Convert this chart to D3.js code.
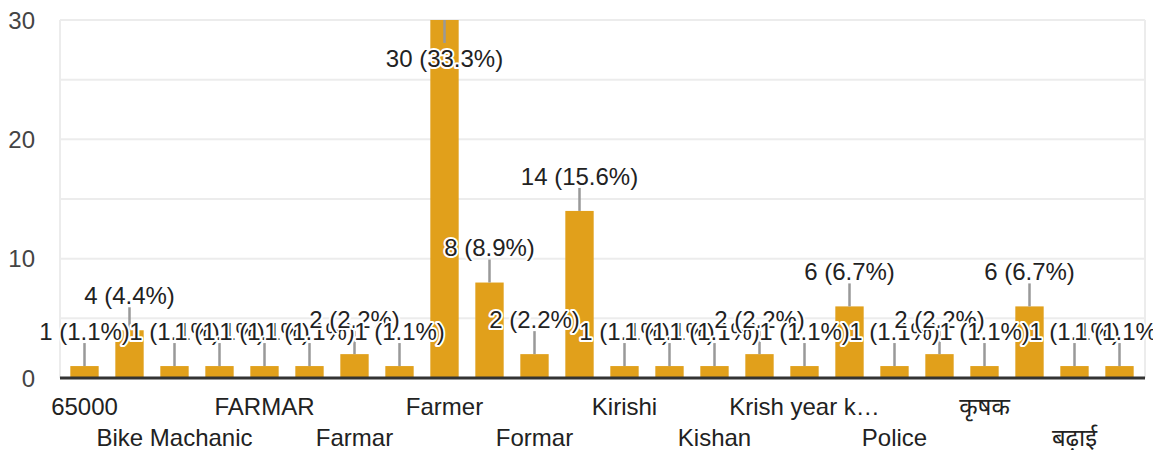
<!DOCTYPE html>
<html lang="en">
<head>
    <meta charset="UTF-8">
    <title>Occupation</title>
    <script src="https://d3js.org/d3.v7.min.js"></script>
    <style>
        body { margin: 0; background: #fff; }
        svg { display: block; font-family: Arial, "Liberation Sans", "Noto Sans Devanagari", "Noto Sans", sans-serif; }
        .grid line { stroke: #ececec; stroke-width: 2; }
        .tick-label { fill: #444; font-size: 24px; }
        .cat-label { fill: #222; font-size: 24px; }
        .stem { stroke: #999; stroke-width: 2.5; }
        .value-label {
            fill: #222; font-size: 24px;
            stroke: #fff; stroke-width: 4; stroke-linejoin: round; paint-order: stroke;
        }
    </style>
</head>
<body>
<svg width="1153" height="450"></svg>

<script>
    // answers, sorted as the form sorts them
    var categories = ['65000', 'Agriculture', 'Bike Machanic', 'Driver', 'FARMAR', 'FARMER', 'Farmar',
        'Farmar ', 'Farmer', 'Farming', 'Formar', 'Kheti', 'Kirishi', 'Kisan', 'Kishan', 'Krashi',
        'Krish year kaam', 'Krishi', 'Police', 'Teacher', 'कृषक', 'खेती', 'बढ़ाई', 'मजदूर'];
    var counts = [1, 4, 1, 1, 1, 1, 2, 1, 30, 8, 2, 14, 1, 1, 1, 2, 1, 6, 1, 2, 1, 6, 1, 1];
    var yTicks = [0, 10, 20, 30];
    var yGrid = [0, 5, 10, 15, 20, 25, 30];

    var total = d3.sum(counts);
    var data = categories.map(function (c, i) { return {name: c, value: counts[i]}; });

    var svg = d3.select('svg');
    var plotLeft = 60, plotRight = 1145, plotTop = 20, plotBottom = 378;

    var x = d3.scaleBand()
            .domain(categories)
            .range([62, 1142])
            .paddingInner(0.37)
            .paddingOuter(0.185);

    var y = d3.scaleLinear()
            .domain([0, 30])
            .range([plotBottom, plotTop]);

    // grid
    var grid = svg.append('g').attr('class', 'grid');
    grid.selectAll('line.h')
            .data(yGrid)
            .enter().append('line')
            .attr('x1', plotLeft).attr('x2', plotRight)
            .attr('y1', function (d) { return y(d); })
            .attr('y2', function (d) { return y(d); });
    grid.append('line').attr('x1', plotLeft).attr('x2', plotLeft).attr('y1', plotTop).attr('y2', plotBottom);
    grid.append('line').attr('x1', plotRight).attr('x2', plotRight).attr('y1', plotTop).attr('y2', plotBottom);

    svg.append('g').selectAll('text')
            .data(yTicks)
            .enter().append('text')
            .attr('class', 'tick-label')
            .attr('x', 35)
            .attr('y', function (d) { return y(d); })
            .attr('dy', '0.36em')
            .attr('text-anchor', 'end')
            .text(function (d) { return d; });

    // bars
    svg.append('g').selectAll('rect')
            .data(data)
            .enter().append('rect')
            .attr('x', function (d) { return x(d.name); })
            .attr('width', x.bandwidth())
            .attr('y', function (d) { return y(d.value); })
            .attr('height', function (d) { return plotBottom - y(d.value); })
            .attr('fill', '#e1a01b');

    svg.append('line')
            .attr('x1', plotLeft).attr('x2', plotRight)
            .attr('y1', plotBottom).attr('y2', plotBottom)
            .attr('stroke', '#333').attr('stroke-width', 3);

    function cx(d) { return x(d.name) + x.bandwidth() / 2; }
    function flipped(d) { return y(d.value) - 35 < plotTop; }

    // annotation stems
    svg.append('g').selectAll('line')
            .data(data)
            .enter().append('line')
            .attr('class', 'stem')
            .attr('x1', cx).attr('x2', cx)
            .attr('y1', function (d) { return y(d.value); })
            .attr('y2', function (d) { return flipped(d) ? y(d.value) + 23 : y(d.value) - 23; });

    svg.append('g').selectAll('text')
            .data(data)
            .enter().append('text')
            .attr('class', 'value-label')
            .attr('x', cx)
            .attr('y', function (d) { return flipped(d) ? y(d.value) + 38 : y(d.value) - 35; })
            .attr('dy', '0.36em')
            .attr('text-anchor', 'middle')
            .text(function (d) {
                return d.value + ' (' + (d.value / total * 100).toFixed(1) + '%)';
            });

    // category labels: every other one, in two staggered rows
    svg.append('g').selectAll('text')
            .data(data.filter(function (d, i) { return i % 2 === 0; }))
            .enter().append('text')
            .attr('class', 'cat-label')
            .attr('x', cx)
            .attr('y', function (d, i) { return i % 2 === 0 ? 406 : 437; })
            .attr('dy', '0.36em')
            .attr('text-anchor', 'middle')
            .text(function (d) {
                return d.name.length > 13 ? d.name.slice(0, 12) + '…' : d.name;
            });
</script>
</body>
</html>
